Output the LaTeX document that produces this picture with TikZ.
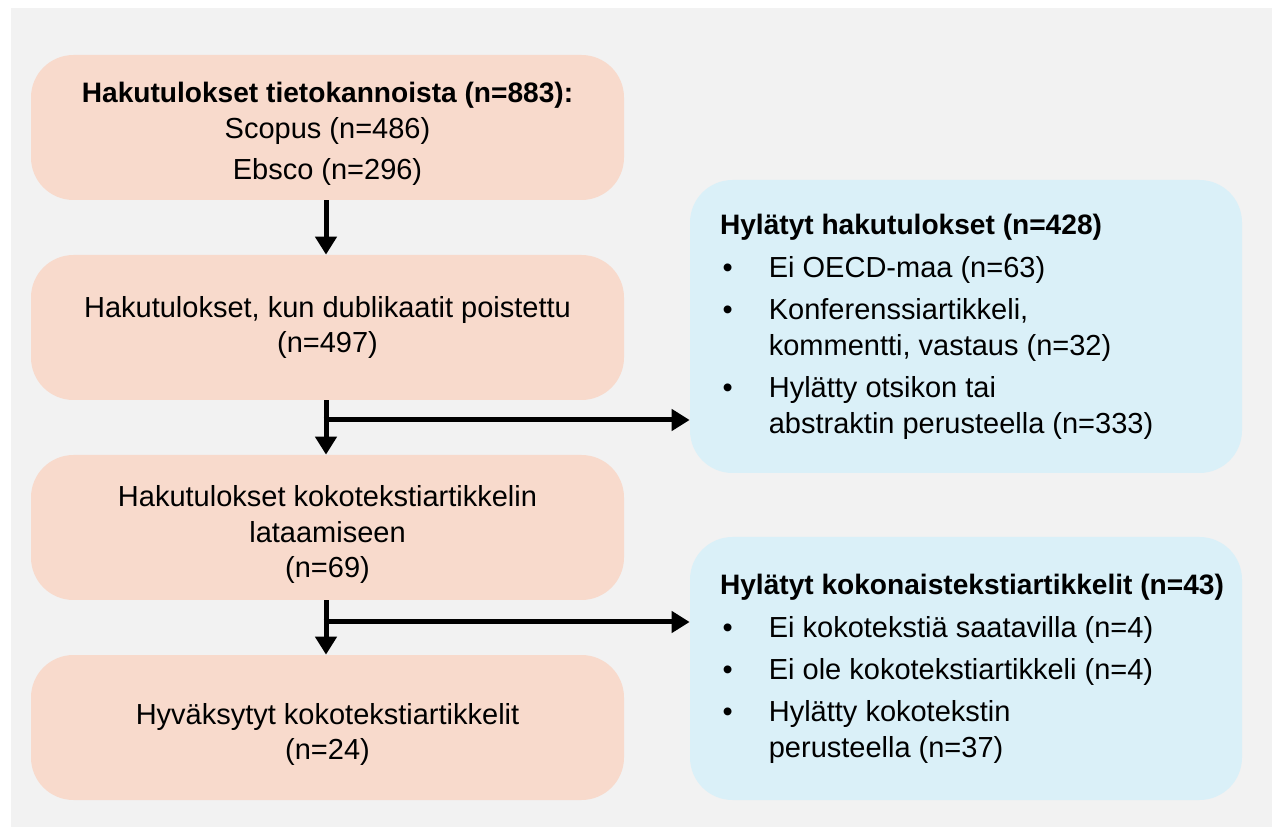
\documentclass[tikz,border=0pt]{standalone}
\usepackage{fontspec}
\setmainfont{Liberation Sans}
\usetikzlibrary{arrows.meta}
\definecolor{hakuvari}{HTML}{F8DACC}
\definecolor{hylvari}{HTML}{DAF0F8}
\definecolor{taustavari}{HTML}{F2F2F2}
\newcommand{\luetelma}{\makebox[27.8pt][l]{\hspace{1.5pt}\textbullet}}
\newcommand{\jatko}{\hspace*{27.8pt}}
\newcommand{\otsikko}[1]{{\fontsize{16}{20.4}\selectfont\bfseries #1}}

\begin{document}
\begin{tikzpicture}[
	hakubox/.style={fill=hakuvari, rounded corners=0.85cm, minimum width=11.86cm, minimum height=2.9cm, inner sep=0pt},
	hylbox/.style={fill=hylvari, rounded corners=0.85cm, minimum width=11.04cm, inner sep=0pt},
	teksti/.style={align=center, inner sep=0pt},
	lista/.style={anchor=west, align=left, inner sep=0pt},
	nuoli/.style={line width=0.1cm, -{Triangle[length=0.36cm, width=0.42cm]}},
	font=\fontsize{16.5}{20.4}\selectfont]
	\useasboundingbox (0,0) rectangle (25.44,16.54);
	\fill[taustavari] (0.22,0) rectangle (25.44,16.38);
	% vasen sarake
	\draw (6.55,13.99) node[hakubox](haku1) {};
	\draw (6.55,9.99) node[hakubox](haku2) {};
	\draw (6.55,5.99) node[hakubox](haku3) {};
	\draw (6.55,1.99) node[hakubox](haku4) {};
	\draw ([yshift=-0.13cm]haku1.center) node[teksti](haku1teksti) {\otsikko{Hakutulokset tietokannoista (n=883):}\\ Scopus (n=486)\\[3pt] Ebsco (n=296)};
	\draw (haku2.center) node[teksti](haku2teksti) {Hakutulokset, kun dublikaatit poistettu\\ (n=497)};
	\draw ([yshift=-0.14cm]haku3.center) node[teksti](haku3teksti) {Hakutulokset kokotekstiartikkelin\\ lataamiseen\\ (n=69)};
	\draw ([yshift=-0.14cm]haku4.center) node[teksti](haku4teksti) {Hyväksytyt kokotekstiartikkelit\\ (n=24)};
	% oikea sarake
	\draw (19.32,10.01) node[hylbox, minimum height=5.86cm](hyl1) {};
	\draw ([xshift=0.6cm]hyl1.west) node[lista](hyl1teksti) {\otsikko{Hylätyt hakutulokset (n=428)}\\[4.5pt]
		\luetelma Ei OECD-maa (n=63)\\[3.4pt]
		\luetelma Konferenssiartikkeli,\\
		\jatko kommentti, vastaus (n=32)\\[3.4pt]
		\luetelma Hylätty otsikon tai\\
		\jatko abstraktin perusteella (n=333)};
	\draw (19.32,3.17) node[hylbox, minimum height=5.26cm](hyl2) {};
	\draw ([xshift=0.6cm]hyl2.west) node[lista](hyl2teksti) {\otsikko{Hylätyt kokonaistekstiartikkelit (n=43)}\\[4.5pt]
		\luetelma Ei kokotekstiä saatavilla (n=4)\\[3.4pt]
		\luetelma Ei ole kokotekstiartikkeli (n=4)\\[3.4pt]
		\luetelma Hylätty kokotekstin\\
		\jatko perusteella (n=37)};
	% nuolet
	\coordinate (haara1) at (6.52,8.14);
	\coordinate (haara2) at (6.52,4.10);
	\draw[nuoli] (haku1.south -| haara1) -- (haku2.north -| haara1);
	\draw[nuoli] (haku2.south -| haara1) -- (haku3.north -| haara1);
	\draw[nuoli] (haku3.south -| haara1) -- (haku4.north -| haara1);
	\draw[nuoli] ([xshift=-0.05cm]haara1) -- (haara1 -| hyl1.west);
	\draw[nuoli] ([xshift=-0.05cm]haara2) -- (haara2 -| hyl2.west);
\end{tikzpicture}
\end{document}
